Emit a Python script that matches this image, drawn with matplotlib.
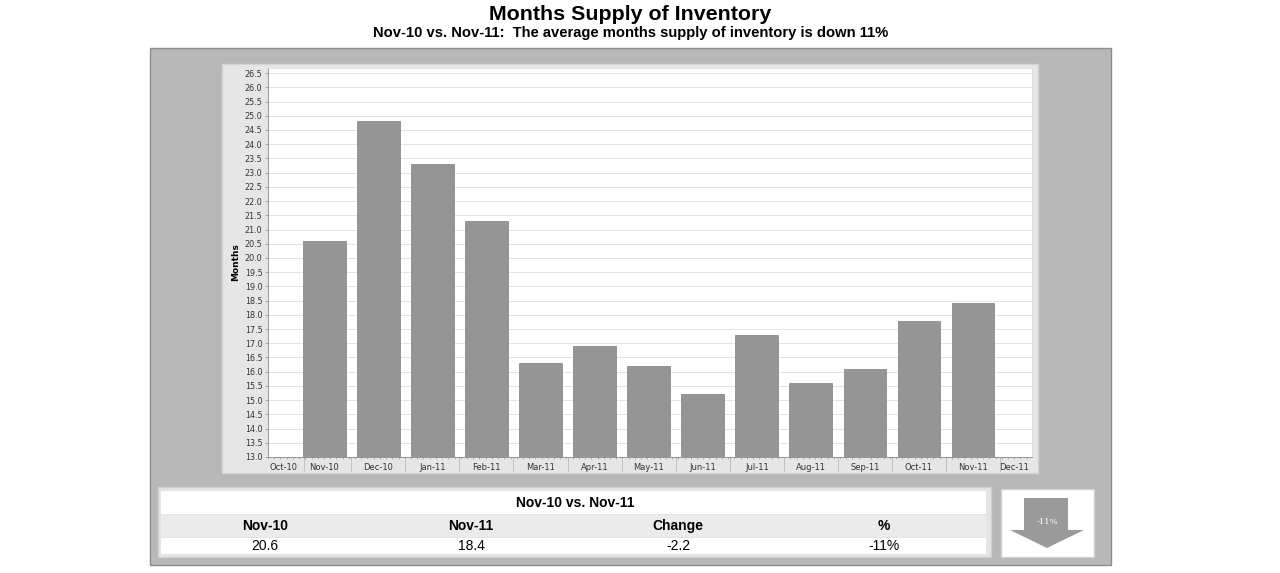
import numpy as np
import matplotlib
matplotlib.use('Agg')
import matplotlib.pyplot as plt
from matplotlib.patches import Rectangle, Polygon
from matplotlib.ticker import FixedLocator

months = ['Nov-10', 'Dec-10', 'Jan-11', 'Feb-11', 'Mar-11', 'Apr-11', 'May-11',
          'Jun-11', 'Jul-11', 'Aug-11', 'Sep-11', 'Oct-11', 'Nov-11']
supply = [20.6, 24.8, 23.3, 21.3, 16.3, 16.9, 16.2, 15.2, 17.3, 15.6, 16.1, 17.8, 18.4]
edge_labels = ['Oct-10', 'Dec-11']

table_headers = ['Nov-10', 'Nov-11', 'Change', '%']
table_values = ['20.6', '18.4', '-2.2', '-11%']
pct_change = '-11%'

W, H = 1280, 573
fig = plt.figure(figsize=(W / 100, H / 100), dpi=100)
fig.patch.set_facecolor('white')


def box(x0, y0, x1, y1):
    return [x0 / W, 1 - y1 / H, (x1 - x0) / W, (y1 - y0) / H]


# background layer in pixel coordinates
bg = fig.add_axes([0, 0, 1, 1])
bg.set_xlim(0, W)
bg.set_ylim(H, 0)
bg.axis('off')
bg.add_patch(Rectangle((150, 48), 961, 517, fc='#b8b8b8', ec='#8c8c8c', lw=1))
bg.add_patch(Rectangle((222, 64), 816, 409, fc='#e6e6e6', ec='#d4d4d4', lw=1))
bg.add_patch(Rectangle((158, 487), 833, 70, fc='#e4e4e4', ec='#d0d0d0', lw=1))
bg.add_patch(Rectangle((161, 491), 825, 23, fc='white', ec='none'))
bg.add_patch(Rectangle((161, 515), 825, 22, fc='#ebebeb', ec='none'))
bg.add_patch(Rectangle((161, 538), 825, 16, fc='white', ec='none'))
bg.add_patch(Rectangle((1001, 489), 93, 68, fc='white', ec='#d0d0d0', lw=1))
bg.add_patch(Polygon([(1024, 498), (1068, 498), (1068, 530), (1084, 530),
                      (1047, 548), (1010, 530), (1024, 530)],
                     closed=True, fc='#9a9a9a', ec='none'))
bg.text(1047, 522, pct_change, ha='center', va='center', fontsize=6,
        color='white', family='DejaVu Serif')

bg.text(630, 14, 'Months Supply of Inventory', ha='center', va='center',
        fontsize=15.4, fontweight='bold', family='Liberation Sans')
bg.text(631, 33, 'Nov-10 vs. Nov-11:  The average months supply of inventory is down 11%',
        ha='center', va='center', fontsize=10.6, fontweight='bold', family='Liberation Sans')

# table text
col_x = [265, 471, 678, 884]
bg.text(575, 503, 'Nov-10 vs. Nov-11', ha='center', va='center', fontsize=10,
        fontweight='bold', family='Liberation Sans')
for cx, hd, val in zip(col_x, table_headers, table_values):
    bg.text(cx, 526, hd, ha='center', va='center', fontsize=10, fontweight='bold',
            family='Liberation Sans')
    bg.text(cx, 546, val, ha='center', va='center', fontsize=10, family='Liberation Sans')

# main chart
ax = fig.add_axes(box(268, 68, 1032, 457))
ax.set_facecolor('white')
xpos = np.arange(1, len(months) + 1)
ax.bar(xpos, [v - 13.0 for v in supply], bottom=13.0, width=0.79,
       color='#959595', edgecolor='#8a8a8a', linewidth=0.6, zorder=3)
ax.set_xlim(-0.04, 14.09)
ax.set_ylim(13.0, 26.68)
yt = np.arange(13.0, 26.51, 0.5)
ax.set_yticks(yt)
ax.set_yticklabels([f'{t:.1f}' for t in yt], fontsize=5.8, color='#333333')
ax.yaxis.grid(True, color='#e4e4e4', lw=0.7, zorder=0)
ax.tick_params(axis='y', length=2, width=0.5, pad=2, color='#888888')

xt = [0.25] + list(xpos) + [13.75]
ax.set_xticks(xt)
ax.set_xticklabels([edge_labels[0]] + months + [edge_labels[1]], fontsize=6,
                   color='#333333')
ax.tick_params(axis='x', length=0, pad=4)
ax.xaxis.set_minor_locator(FixedLocator(np.arange(-0.04, 14.09, 0.115)))
ax.tick_params(axis='x', which='minor', length=1.5, width=0.4, color='#888888')
for s in ['top', 'right']:
    ax.spines[s].set_color('#e0e0e0')
    ax.spines[s].set_linewidth(0.6)
ax.spines['left'].set_color('#888888')
ax.spines['left'].set_linewidth(0.6)
ax.spines['bottom'].set_color('#888888')
ax.spines['bottom'].set_linewidth(0.6)

# category separators in the label band
for sx in [0.62] + list(np.arange(1.5, 13.6, 1.0)):
    ax.plot([sx, sx], [0, -0.035], transform=ax.get_xaxis_transform(),
            color='#bbbbbb', lw=0.6, clip_on=False)

ax.set_ylabel('Months', fontsize=6.5, fontweight='bold', labelpad=3)

fig.savefig('out.png', dpi=100)
